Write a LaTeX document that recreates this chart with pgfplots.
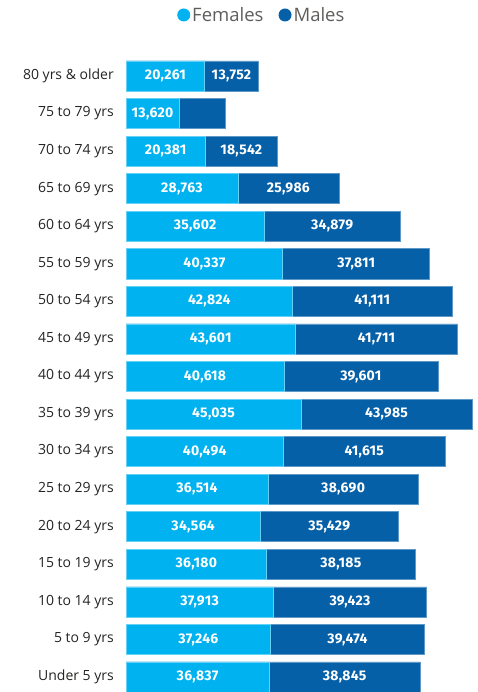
\documentclass[border=0pt]{standalone}
\usepackage{pgfplots}
\pgfplotsset{compat=1.18}
\usepackage{pgfplotstable}
\usepackage{fontspec}
\setmainfont{Open Sans}
\newfontfamily\labfont[LetterSpace=2]{Fira Sans}
\definecolor{fem}{HTML}{00B2F0}
\definecolor{mal}{HTML}{0660A7}
\definecolor{txt}{HTML}{252423}
\definecolor{leg}{HTML}{605E5C}

\pgfplotstableread{
y f m
0 36837 38845
1 37246 39474
2 37913 39423
3 36180 38185
4 34564 35429
5 36514 38690
6 40494 41615
7 45035 43985
8 40618 39601
9 43601 41711
10 42824 41111
11 40337 37811
12 35602 34879
13 28763 25986
14 20381 18542
15 13620 11800
16 20261 13752
}\data

\begin{document}
\begin{tikzpicture}
\useasboundingbox (0,0) rectangle (478pt,692pt);
\begin{axis}[
  at={(126pt,0pt)}, anchor=south west,
  scale only axis, width=352pt, height=634.8pt,
  xmin=0, xmax=90560, ymin=-0.4, ymax=16.5,
  axis line style={draw=none},
  xtick=\empty,
  ytick={0,...,16},
  yticklabels={Under 5 yrs,5 to 9 yrs,10 to 14 yrs,15 to 19 yrs,20 to 24 yrs,25 to 29 yrs,30 to 34 yrs,35 to 39 yrs,40 to 44 yrs,45 to 49 yrs,50 to 54 yrs,55 to 59 yrs,60 to 64 yrs,65 to 69 yrs,70 to 74 yrs,75 to 79 yrs,80 yrs \& older},
  major tick length=0pt,
  tick style={draw=none},
  yticklabel style={anchor=east, inner sep=0pt, xshift=-12pt, font=\fontsize{14}{16}\selectfont, text=txt},
  clip=true,
  legend columns=2,
  legend style={at={(0.145,1.0665)}, anchor=west, draw=none, fill=none,
    font=\fontsize{18.5}{21}\selectfont, text=leg,
    nodes={inner sep=2pt},
    /tikz/every even column/.append style={column sep=13pt},
    inner sep=0pt},
  legend image code/.code={\fill[#1, draw=none] (6.5pt,0pt) circle (6.5pt);},
  /pgf/number format/assume math mode=true,
]
\addlegendimage{fill=fem}
\addlegendentry{Females}
\addlegendimage{fill=mal}
\addlegendentry{Males}

\addplot[xbar, bar width=0.8, bar shift=0pt, fill=mal, draw=mal!65!white, line width=0.6pt, forget plot]
  table[x expr=\thisrow{f}+\thisrow{m}, y=y] {\data};
\addplot[xbar, bar width=0.8, bar shift=0pt, fill=fem, draw=fem!60!white, line width=0.6pt, forget plot]
  table[x=f, y=y] {\data};

\addplot[only marks, mark=none, forget plot, point meta=explicit,
  nodes near coords, nodes near coords align={anchor=center},
  every node near coord/.append style={font=\labfont\bfseries\fontsize{14}{16}\selectfont, text=white, inner sep=0pt},
  /pgf/number format/.cd, fixed, 1000 sep={,}]
  table[x expr=\thisrow{f}/2, y=y, meta=f] {\data};
\addplot[only marks, mark=none, forget plot, point meta=explicit,
  nodes near coords, nodes near coords align={anchor=center},
  every node near coord/.append style={font=\labfont\bfseries\fontsize{14}{16}\selectfont, text=white, inner sep=0pt},
  skip coords between index={15}{16},
  /pgf/number format/.cd, fixed, 1000 sep={,}]
  table[x expr=\thisrow{f}+\thisrow{m}/2, y=y, meta=m] {\data};
\end{axis}
\end{tikzpicture}
\end{document}
